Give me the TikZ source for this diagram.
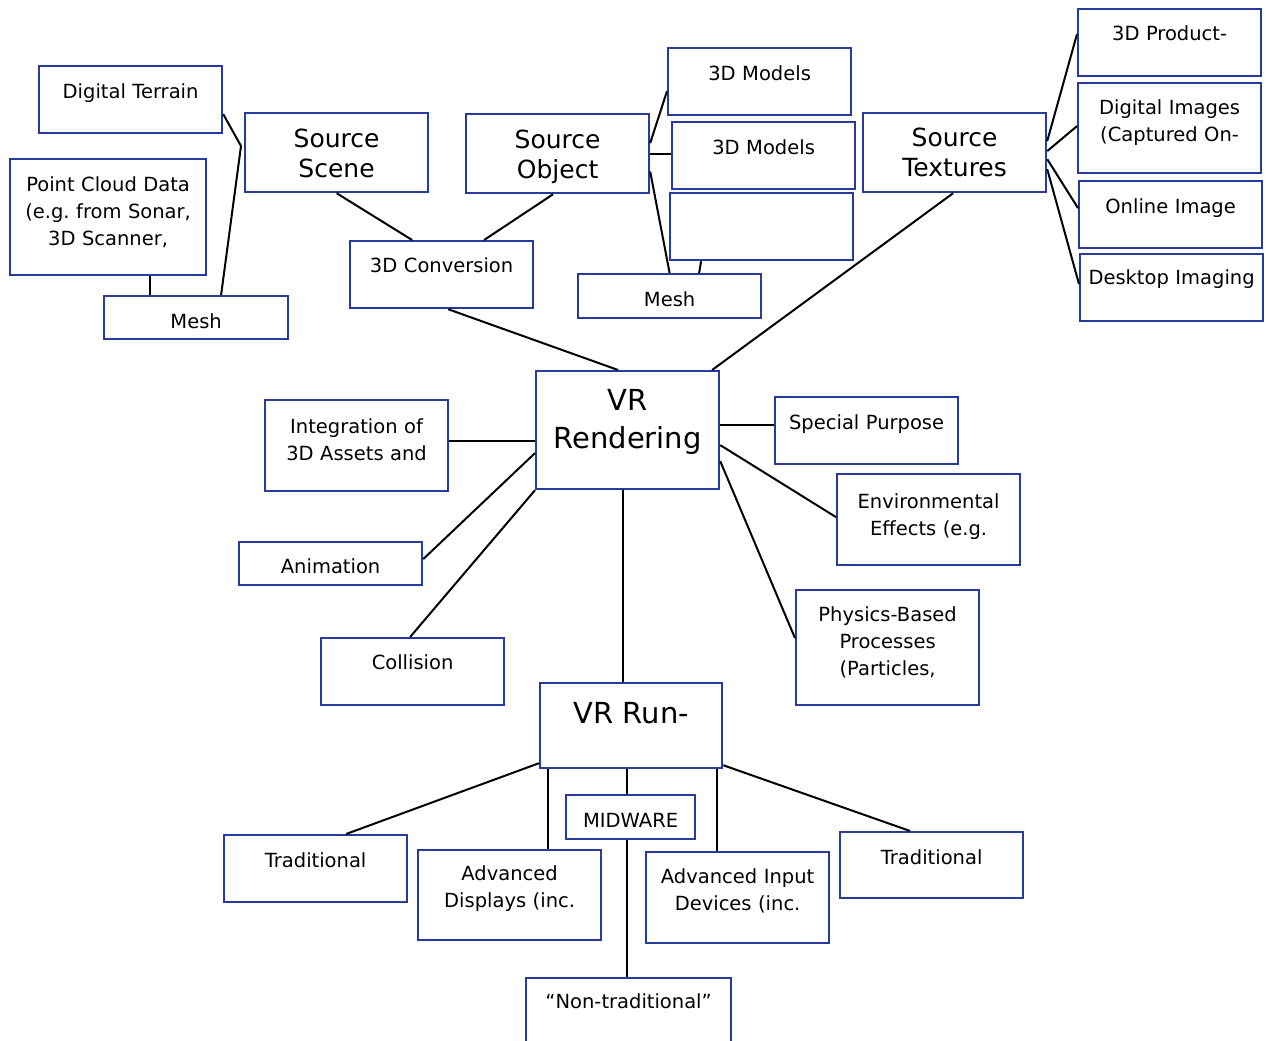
\documentclass[tikz,border=0pt]{standalone}
\usepackage{fontspec}
\setmainfont{DejaVu Sans}
\usepackage{xcolor}
\usepackage{tikz}
\usetikzlibrary{positioning, calc}
\definecolor{boxBlue}{RGB}{40,58,155}
\frenchspacing

\begin{document}
\begin{tikzpicture}[
    x=1pt, y=-1pt,
    block/.style={rectangle, draw=boxBlue, line width=2.2pt, fill=white, anchor=north west, inner sep=0pt, text width=183pt, text height=32pt, text depth=35pt, align=center, font=\fontsize{19.5}{27}\selectfont},
    head/.style={font=\fontsize{25}{30}\selectfont},
    hub/.style={font=\fontsize{29}{38}\selectfont},
    link/.style={line width=2pt}
]
\path[use as bounding box, fill=white] (0,0) rectangle (1266,1041);

% Source scene side
\node[block] (terrain) at (38,65) {Digital Terrain};
\node[block, text width=196pt, text depth=84pt] (cloud) at (9,158) {Point Cloud Data\\(e.g. from Sonar,\\3D Scanner,};
\node[block, text width=184pt, text depth=11pt] (meshL) at (103,295) {Mesh};
\node[block, head, text height=34pt, text depth=45pt] (scene) at (244,112) {Source\\Scene};
\node[block, text height=31pt, text depth=36pt] (conv) at (349,240) {3D Conversion};

% Source object side
\node[block, head, text height=34pt, text depth=45pt] (object) at (465,113) {Source\\Object};
\node[block] (models1) at (667,47) {3D Models};
\node[block] (models2) at (671,121) {3D Models};
\node[block] (empty) at (669,192) {};
\node[block, text depth=12pt] (meshM) at (577,273) {Mesh};

% Source textures side
\node[block, head, text height=33pt, text depth=46pt] (textures) at (862,112) {Source\\Textures};
\node[block, text height=31pt, text depth=36pt] (product) at (1077,8) {3D Product-};
\node[block, text height=31pt, text depth=59pt] (images) at (1077,82) {Digital Images\\(Captured On-};
\node[block] (online) at (1078,180) {Online Image};
\node[block, text height=30pt, text depth=37pt] (desktop) at (1079,253) {Desktop Imaging};

% Rendering
\node[block, hub, text height=39pt, text depth=79pt] (render) at (535,370) {VR\\Rendering};
\node[block, text height=33pt, text depth=58pt] (integ) at (264,399) {Integration of\\3D Assets and};
\node[block, text height=31pt, text depth=12pt] (anim) at (238,541) {Animation};
\node[block, text height=31pt, text depth=36pt] (coll) at (320,637) {Collision};
\node[block] (special) at (774,396) {Special Purpose};
\node[block, text height=34pt, text depth=57pt] (env) at (836,473) {Environmental\\Effects (e.g.};
\node[block, text height=31pt, text depth=84pt] (phys) at (795,589) {Physics-Based\\Processes\\(Particles,};

% Run-time
\node[block, hub, text width=182pt, text height=40pt, text depth=45pt] (run) at (539,682) {VR Run-};
\node[block, text width=129pt, text depth=12pt] (midware) at (565,794) {MIDWARE};
\node[block] (tradL) at (223,834) {Traditional};
\node[block, text height=30pt, text depth=60pt] (advDisp) at (417,849) {Advanced\\Displays (inc.};
\node[block, text height=31pt, text depth=60pt] (advIn) at (645,851) {Advanced Input\\Devices (inc.};
\node[block, text depth=34pt] (tradR) at (839,831) {Traditional};
\node[block, text width=205pt, text height=30pt, text depth=40pt] (nontrad) at (525,977) {“Non-traditional”};

% Links into the scene side
\coordinate (kink) at (241,146);
\draw[link] ([yshift=-14.5pt]terrain.east) -- (kink) -- ([xshift=25pt]meshL.north);
\draw[link] ([xshift=42pt]cloud.south) -- ([xshift=42pt]cloud.south |- meshL.north);
\draw[link] (scene.south) -- ([xshift=-29.5pt]conv.north);
\draw[link] ([xshift=-4.5pt]object.south) -- ([xshift=42.5pt]conv.north);
\draw[link] ([xshift=6.5pt]conv.south) -- ([xshift=-9.5pt]render.north);

% Links from the object
\draw[link] ([yshift=10.5pt]object.east) -- ([yshift=-9.5pt]models1.west);
\draw[link] (object.east) -- (object.east -| models2.west);
\draw[link] ([yshift=-18pt]object.east) -- (meshM.north);
\draw[link] ([xshift=-60.5pt]empty.south) -- ([xshift=29.5pt]meshM.north);

% Links from the textures
\draw[link] ([yshift=11.5pt]textures.east) -- ([yshift=8.5pt]product.west);
\draw[link] ([yshift=1.5pt]textures.east) -- ([yshift=2pt]images.west);
\draw[link] ([yshift=-6.5pt]textures.east) -- ([yshift=6.5pt]online.west);
\draw[link] ([yshift=-16.5pt]textures.east) -- ([yshift=3.5pt]desktop.west);
\draw[link] ([xshift=-1.5pt]textures.south) -- ([xshift=84.5pt]render.north);

% Links around the rendering
\draw[link] ([yshift=-11pt]render.west) -- ([yshift=4.5pt]integ.east);
\draw[link] ([yshift=-23pt]render.west) -- ([yshift=4.5pt]anim.east);
\draw[link] (render.south west) -- ([xshift=-2.5pt]coll.north);
\draw[link] ([yshift=5pt]render.east) -- ([yshift=5.5pt]special.west);
\draw[link] ([yshift=-15pt]render.east) -- ([yshift=2.5pt]env.west);
\draw[link] ([yshift=-31pt]render.east) -- ([yshift=9.5pt]phys.west);
\draw[link] ([xshift=-4.5pt]render.south) -- ([xshift=-4.5pt]render.south |- run.north);

% Links under the run-time
\draw[link] ([yshift=6pt]run.south west) -- ([xshift=30.5pt]tradL.north);
\draw[link] ([xshift=9pt]run.south west) -- ([xshift=9pt]run.south west |- advDisp.north);
\draw[link] ([xshift=-3.5pt]midware.north) -- ([xshift=-3.5pt]midware.north |- run.south);
\draw[link] ([xshift=-3.5pt]midware.south) -- ([xshift=-3.5pt]midware.south |- nontrad.north);
\draw[link] ([xshift=-6pt]run.south east) -- ([xshift=-6pt]run.south east |- advIn.north);
\draw[link] ([yshift=4pt]run.south east) -- ([xshift=-21.5pt]tradR.north);

\end{tikzpicture}
\end{document}
